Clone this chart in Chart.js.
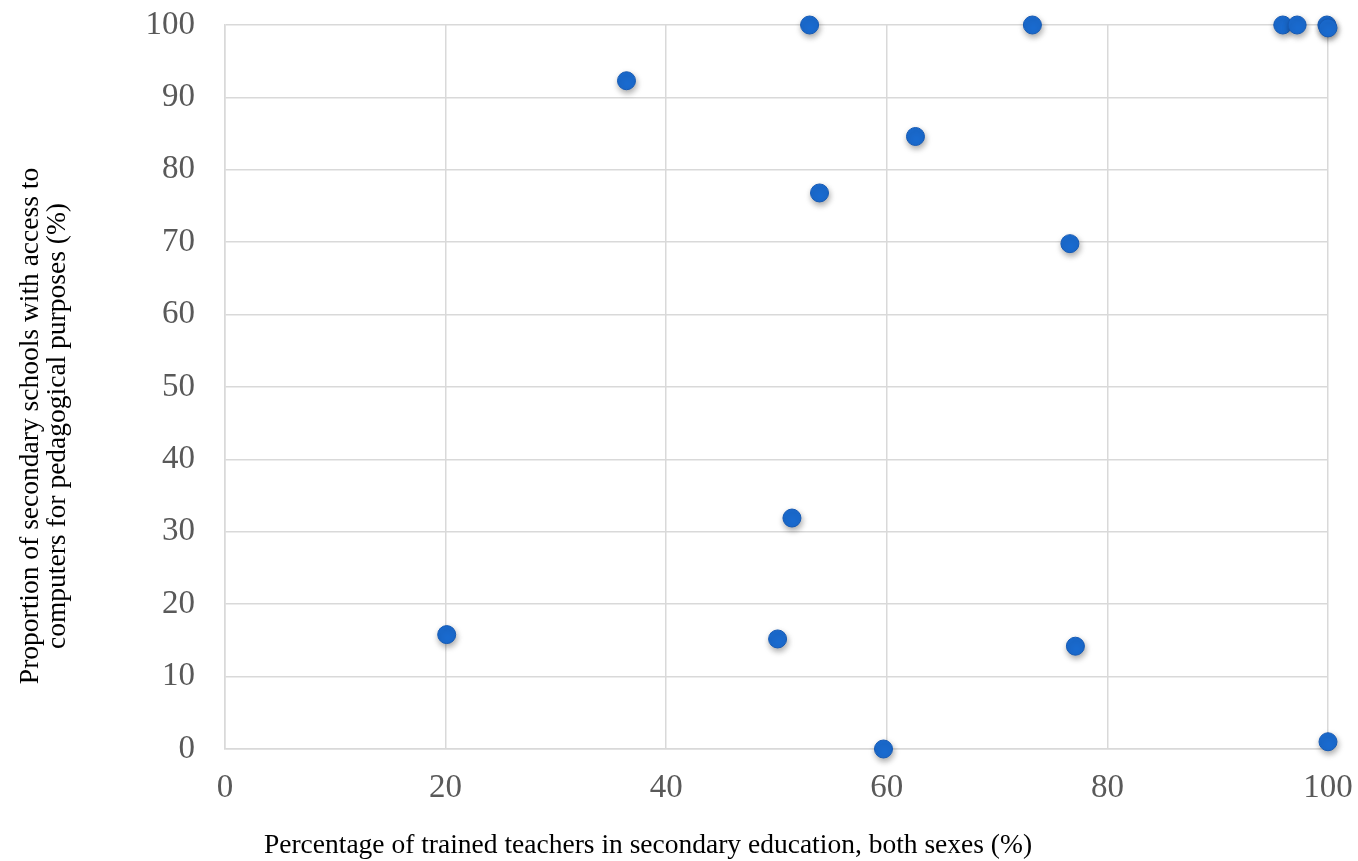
<!DOCTYPE html>
<html>
<head>
<meta charset="utf-8">
<script src="https://cdn.jsdelivr.net/npm/chart.js@4/dist/chart.umd.min.js"></script>
<style>
html,body{margin:0;padding:0;background:#fff;}
#wrap{width:1358px;height:861px;position:relative;}
</style>
</head>
<body>
<div id="wrap"><canvas id="c" width="1358" height="861"></canvas></div>
<script>
const trainedTeachers = [20.1, 36.4, 50.1, 51.4, 53.0, 53.9, 59.7, 62.6, 73.2, 76.6, 77.1, 95.9, 97.2, 99.9, 100, 100];
const schoolsComputers = [15.8, 92.3, 15.2, 31.9, 100, 76.8, 0, 84.6, 100, 69.8, 14.2, 100, 100, 100, 99.6, 1.0];
const xTitle = 'Percentage of trained teachers in secondary education, both sexes (%)';
const yTitle = ['Proportion of secondary schools with access to', 'computers for pedagogical purposes (%)'];

const points = trainedTeachers.map((x, i) => ({x: x, y: schoolsComputers[i]}));
const FONT = 'Liberation Serif, Times New Roman, serif';

const shadowPlugin = {
  id: 'shadow',
  beforeDatasetsDraw(chart) {
    const ctx = chart.ctx;
    ctx.save();
    ctx.shadowColor = 'rgba(0,0,0,0.35)';
    ctx.shadowBlur = 6;
    ctx.shadowOffsetX = 1;
    ctx.shadowOffsetY = 3;
  },
  afterDatasetsDraw(chart) {
    chart.ctx.restore();
  }
};

const titlesPlugin = {
  id: 'titles',
  afterDraw(chart) {
    const ctx = chart.ctx;
    ctx.save();
    ctx.fillStyle = '#000';
    ctx.font = '27.5px ' + FONT;
    ctx.textAlign = 'center';
    ctx.textBaseline = 'middle';
    ctx.fillText(xTitle, 648, 846);
    ctx.translate(31, 426);
    ctx.rotate(-Math.PI / 2);
    ctx.fillText(yTitle[0], 0, 0);
    ctx.fillText(yTitle[1], 0, 27);
    ctx.restore();
  }
};

new Chart(document.getElementById('c'), {
  type: 'scatter',
  data: {
    datasets: [{
      data: points,
      backgroundColor: '#1a6bd0',
      borderColor: '#155ab5',
      borderWidth: 1,
      pointRadius: 9,
      pointHoverRadius: 9,
      clip: false
    }]
  },
  plugins: [shadowPlugin, titlesPlugin],
  options: {
    responsive: false,
    animation: false,
    events: [],
    layout: {padding: {left: 0, right: 30, top: 25, bottom: 0}},
    plugins: {legend: {display: false}, tooltip: {enabled: false}},
    scales: {
      x: {
        type: 'linear',
        min: 0, max: 100,
        afterFit(scale) { scale.height = 112; scale.paddingLeft = 0; scale.paddingRight = 0; },
        ticks: {stepSize: 20, color: '#595959', font: {family: FONT, size: 33}, padding: 20},
        grid: {color: '#d9d9d9', lineWidth: 1.5, drawTicks: false},
        border: {color: '#d9d9d9', width: 1.5}
      },
      y: {
        type: 'linear',
        min: 0, max: 100,
        afterFit(scale) { scale.width = 225; scale.paddingTop = 0; scale.paddingBottom = 0; },
        ticks: {stepSize: 10, color: '#595959', font: {family: FONT, size: 33}, padding: 30},
        grid: {color: '#d9d9d9', lineWidth: 1.5, drawTicks: false},
        border: {color: '#d9d9d9', width: 1.5}
      }
    }
  }
});
</script>
</body>
</html>
